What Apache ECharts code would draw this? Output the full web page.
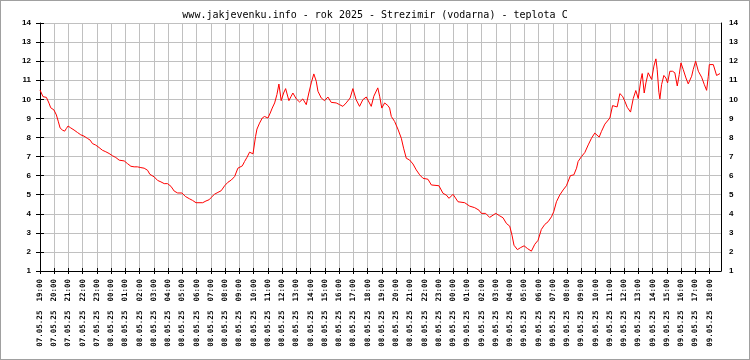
<!DOCTYPE html>
<html>
<head>
<meta charset="utf-8">
<script src="https://cdn.jsdelivr.net/npm/echarts@6/dist/echarts.min.js"></script>
<style>
html,body{margin:0;padding:0;background:#fff;}
#wrap{position:relative;width:750px;height:360px;}
#chart{width:750px;height:360px;}
#frame{position:absolute;left:0;top:0;width:750px;height:360px;box-sizing:border-box;border:1px solid #a0a0a0;pointer-events:none;}
</style>
</head>
<body>
<div id="wrap"><div id="chart"></div><div id="frame"></div></div>
<script>
const titleText = 'www.jakjevenku.info - rok 2025 - Strezimir (vodarna) - teplota C';

// hour labels (one per hour, starting 07.05.25 19:00)
const tickLabels = [
 '07.05.25  19:00','07.05.25  20:00','07.05.25  21:00','07.05.25  22:00','07.05.25  23:00',
 '08.05.25  00:00','08.05.25  01:00','08.05.25  02:00','08.05.25  03:00','08.05.25  04:00',
 '08.05.25  05:00','08.05.25  06:00','08.05.25  07:00','08.05.25  08:00','08.05.25  09:00',
 '08.05.25  10:00','08.05.25  11:00','08.05.25  12:00','08.05.25  13:00','08.05.25  14:00',
 '08.05.25  15:00','08.05.25  16:00','08.05.25  17:00','08.05.25  18:00','08.05.25  19:00',
 '08.05.25  20:00','08.05.25  21:00','08.05.25  22:00','08.05.25  23:00','09.05.25  00:00',
 '09.05.25  01:00','09.05.25  02:00','09.05.25  03:00','09.05.25  04:00','09.05.25  05:00',
 '09.05.25  06:00','09.05.25  07:00','09.05.25  08:00','09.05.25  09:00','09.05.25  10:00',
 '09.05.25  11:00','09.05.25  12:00','09.05.25  13:00','09.05.25  14:00','09.05.25  15:00',
 '09.05.25  16:00','09.05.25  17:00','09.05.25  18:00'
];

const yTicks = [1,2,3,4,5,6,7,8,9,10,11,12,13,14];

// time of each reading, hours after 07.05.25 19:00
const hours = [
 0.00,0.21,0.45,0.63,0.75,0.98,1.15,1.29,1.41,1.57,1.73,1.85,1.97,2.16,2.39,2.63,2.86,3.09,3.33,3.52,
 3.68,3.91,4.15,4.38,4.62,4.85,5.09,5.32,5.56,5.91,6.14,6.38,6.61,6.84,7.08,7.31,7.55,7.71,8.02,8.25,
 8.49,8.72,8.95,9.19,9.42,9.66,9.96,10.20,10.48,10.71,10.95,11.42,11.65,11.88,
 12.02,12.26,12.49,12.72,12.96,13.19,13.43,13.66,13.89,14.20,14.36,14.53,14.71,14.95,15.13,15.23,
 15.41,15.60,15.76,16.00,16.16,16.30,16.47,16.63,16.77,16.93,17.10,17.24,17.47,17.63,17.75,17.99,
 18.22,18.45,18.69,18.87,19.04,19.22,19.39,19.51,19.74,19.97,20.21,20.44,20.79,21.03,21.26,21.49,
 21.77,21.96,22.19,22.43,22.66,22.90,23.01,23.25,23.43,23.71,23.84,23.99,24.19,24.42,24.54,24.66,
 24.89,25.12,25.36,25.52,25.71,25.94,26.18,26.41,26.65,26.88,27.23,27.47,28.00,28.29,28.52,28.71,
 28.99,29.34,29.81,30.16,30.51,30.81,30.98,31.28,31.56,31.99,32.27,32.50,32.74,32.97,33.13,33.27,
 33.51,33.74,33.98,34.21,34.49,34.73,34.96,35.19,35.43,35.66,35.90,36.06,36.25,36.48,36.72,36.95,
 37.07,37.23,37.47,37.66,37.77,38.01,38.24,38.48,38.71,38.94,39.25,39.41,39.65,40.00,40.19,40.28,
 40.51,40.70,40.89,41.05,41.22,41.45,41.64,41.82,41.99,42.18,42.27,42.41,42.53,42.69,42.81,42.93,
 43.09,43.23,43.32,43.44,43.51,43.63,43.79,43.93,44.05,44.21,44.40,44.56,44.73,44.87,44.99,45.15,
 45.34,45.50,45.74,45.85,46.02,46.21,46.44,46.63,46.79,46.91,46.98,47.26,47.49,47.73
];

// temperature, deg C
const temps = [
 10.49,10.14,10.10,9.80,9.56,9.44,9.18,8.82,8.50,8.39,8.33,8.47,8.60,8.50,8.39,8.26,8.14,8.07,7.95,7.86,
 7.68,7.60,7.47,7.33,7.25,7.16,7.04,6.95,6.81,6.77,6.63,6.49,6.46,6.46,6.42,6.39,6.28,6.07,5.93,5.75,
 5.67,5.58,5.58,5.44,5.19,5.09,5.09,4.91,4.79,4.70,4.58,4.58,4.67,4.74,
 4.86,5.03,5.12,5.21,5.47,5.65,5.77,5.95,6.39,6.51,6.74,6.96,7.23,7.14,8.05,8.44,
 8.75,9.02,9.10,9.02,9.28,9.54,9.81,10.25,10.80,9.93,10.33,10.56,9.93,10.16,10.33,10.02,
 9.86,10.02,9.72,10.33,10.86,11.33,10.95,10.42,10.07,9.93,10.12,9.84,9.81,9.72,9.63,9.81,
 10.07,10.56,9.98,9.63,9.98,10.12,10.16,9.63,10.16,10.60,10.16,9.54,9.81,9.67,9.54,9.10,
 8.84,8.44,7.96,7.44,6.91,6.82,6.61,6.30,6.04,5.86,5.81,5.51,5.47,5.07,4.98,4.81,
 5.02,4.63,4.58,4.40,4.32,4.19,4.02,4.02,3.81,4.02,3.89,3.79,3.49,3.35,2.88,2.35,
 2.12,2.23,2.32,2.18,2.04,2.40,2.61,3.18,3.44,3.58,3.84,4.11,4.63,4.98,5.25,5.47,
 5.51,6.00,6.04,6.39,6.74,7.00,7.21,7.61,7.96,8.23,8.02,8.32,8.70,9.02,9.67,9.63,
 9.60,10.30,10.16,9.90,9.58,9.33,10.04,10.46,10.04,11.04,11.35,10.33,10.86,11.39,11.47,11.04,
 11.74,12.12,11.56,10.37,10.02,10.77,11.25,11.12,10.86,11.47,11.47,11.39,10.70,11.30,11.91,11.56,
 11.12,10.81,11.21,11.56,12.00,11.47,11.16,10.77,10.47,11.21,11.82,11.82,11.25,11.35
];

const xEnd = 47.8;
const seriesData = hours.map((h, i) => [h, temps[i]]);
const hourTicks = tickLabels.map((_, i) => i);

const chart = echarts.init(document.getElementById('chart'), null, {renderer: 'canvas'});
const monoFont = '"DejaVu Sans Mono", "Liberation Mono", monospace';
const sansFont = '"Liberation Sans", "DejaVu Sans", sans-serif';

chart.setOption({
  animation: false,
  backgroundColor: '#ffffff',
  title: {
    text: titleText,
    left: 'center',
    top: 5,
    textStyle: {fontFamily: monoFont, fontSize: 10, fontWeight: 'normal', color: '#000'}
  },
  grid: {left: 40, right: 29, top: 23, bottom: 89, containLabel: false},
  xAxis: [{
    type: 'value', min: 0, max: xEnd, interval: 1,
    axisLine: {show: true, lineStyle: {color: '#000', width: 1}},
    axisTick: {show: true, length: 3, customValues: hourTicks, lineStyle: {color: '#000'}},
    axisLabel: {
      show: true, rotate: 90, margin: 8, customValues: hourTicks,
      fontFamily: monoFont, fontSize: 7.5, fontWeight: 'bold', color: '#000',
      formatter: v => tickLabels[Math.round(v)] || ''
    },
    splitLine: {show: true, lineStyle: {color: '#c0c0c0', width: 1}}
  }, {
    type: 'value', min: 0, max: xEnd, interval: 1, position: 'bottom',
    axisLine: {show: false},
    axisTick: {show: true, inside: true, length: 3, customValues: hourTicks, lineStyle: {color: '#000'}},
    axisLabel: {show: false},
    splitLine: {show: false}
  }],
  yAxis: [{
    type: 'value', min: 1, max: 14, interval: 1, position: 'left',
    axisLine: {show: true, lineStyle: {color: '#000', width: 1}},
    axisTick: {show: true, length: 4, lineStyle: {color: '#000'}},
    axisLabel: {margin: 9, fontFamily: sansFont, fontWeight: 'bold', fontSize: 8, color: '#000',
      padding: [3, 0, 0, 0],
      formatter: v => yTicks.includes(v) ? String(v) : ''},
    splitLine: {show: true, lineStyle: {color: '#c0c0c0', width: 1}}
  }, {
    type: 'value', min: 1, max: 14, interval: 1, position: 'left',
    axisLine: {show: false},
    axisTick: {show: true, inside: true, length: 4, lineStyle: {color: '#000'}},
    axisLabel: {show: false},
    splitLine: {show: false}
  }, {
    type: 'value', min: 1, max: 14, interval: 1, position: 'right',
    axisLine: {show: true, lineStyle: {color: '#000', width: 1}},
    axisTick: {show: false},
    axisLabel: {margin: 8, fontFamily: sansFont, fontWeight: 'bold', fontSize: 8, color: '#000',
      padding: [3, 0, 0, 0],
      formatter: v => yTicks.includes(v) ? String(v) : ''},
    splitLine: {show: false}
  }],
  series: [{
    type: 'line',
    xAxisIndex: 0, yAxisIndex: 0,
    data: seriesData,
    showSymbol: false,
    symbol: 'none',
    lineStyle: {color: '#ff0000', width: 1},
    itemStyle: {color: '#ff0000'},
    smooth: false
  }]
});
</script>
</body>
</html>
